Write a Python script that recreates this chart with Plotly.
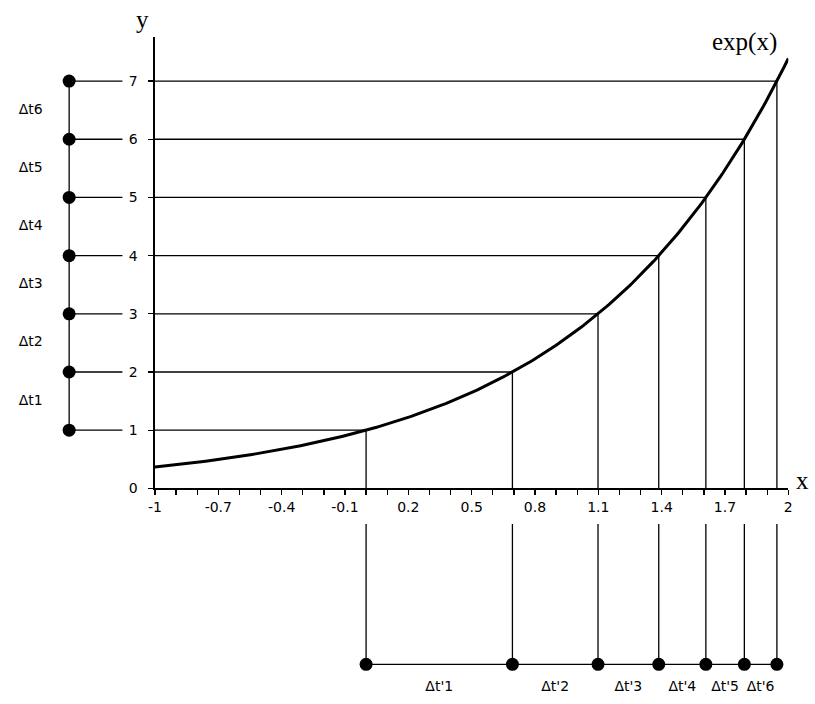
import numpy as np
import plotly.graph_objects as go

# ---- data ----
levels = [1, 2, 3, 4, 5, 6, 7]
x_tick_vals = [-1, -0.7, -0.4, -0.1, 0.2, 0.5, 0.8, 1.1, 1.4, 1.7, 2]
x_tick_text = ["-1", "-0.7", "-0.4", "-0.1", "0.2", "0.5", "0.8", "1.1", "1.4", "1.7", "2"]
x_minor_vals = [round(-1 + 0.1 * i, 1) for i in range(31)]
y_tick_vals = [0, 1, 2, 3, 4, 5, 6, 7]
y_tick_text = ["0", "1", "2", "3", "4", "5", "6", "7"]
left_labels = ["Δt1", "Δt2", "Δt3", "Δt4", "Δt5", "Δt6"]
bottom_labels = ["Δt'1", "Δt'2", "Δt'3", "Δt'4", "Δt'5", "Δt'6"]
curve_x = np.linspace(-1, 2, 301)
curve_y = np.exp(curve_x)          # the plotted function exp(x)
level_x = list(np.log(levels))     # where exp(x) meets each level

# ---- geometry (pixel layout of the 815x704 canvas) ----
W, H = 815, 704
PX0, PX1 = 150, 792          # pixel x of x=-1 and x=2
PY0 = 494                    # pixel y of y=0
PY_TOP = 37                  # top of y axis line
SX = (PX1 - PX0) / 3.0       # px per x unit
SY = (PY0 - 82) / 7.0        # px per y unit

def dx(px):
    return -1 + (px - PX0) / SX

def dy(py):
    return (PY0 - py) / SY

LEFT_X = dx(63)
LEFT_END = dx(117)
BOT_Y = dy(672)
BOT_TOP = dy(530)
LBL_X = dx(24)
BLBL_Y = dy(695)

LINE = dict(color="black", width=1.3)
FONT_S = dict(family="DejaVu Sans", size=14, color="black")
FONT_T = dict(family="Liberation Serif", size=25, color="black")

fig = go.Figure()

# main axes traces: right parts of horizontal lines, vertical drops, curve
hx, hy = [], []
for k, xk in zip(levels, level_x):
    hx += [-1, xk, None]
    hy += [k, k, None]
fig.add_trace(go.Scatter(x=hx, y=hy, mode="lines", line=LINE, hoverinfo="skip",
                         xaxis="x", yaxis="y"))
vx, vy = [], []
for k, xk in zip(levels, level_x):
    vx += [xk, xk, None]
    vy += [k, 0, None]
fig.add_trace(go.Scatter(x=vx, y=vy, mode="lines", line=LINE, hoverinfo="skip",
                         xaxis="x", yaxis="y"))
fig.add_trace(go.Scatter(x=curve_x, y=curve_y, mode="lines",
                         line=dict(color="black", width=3), hoverinfo="skip",
                         xaxis="x", yaxis="y"))

# overlay axes: left scale and bottom scale
lx, ly = [], []
for k in levels:
    lx += [LEFT_X, LEFT_END, None]
    ly += [k, k, None]
fig.add_trace(go.Scatter(x=lx, y=ly, mode="lines", line=LINE, hoverinfo="skip",
                         xaxis="x2", yaxis="y2"))
fig.add_trace(go.Scatter(x=[LEFT_X] * len(levels), y=levels, mode="lines+markers",
                         line=LINE, marker=dict(color="black", size=13),
                         hoverinfo="skip", xaxis="x2", yaxis="y2"))
bx, by = [], []
for xk in level_x:
    bx += [xk, xk, None]
    by += [BOT_TOP, BOT_Y, None]
fig.add_trace(go.Scatter(x=bx, y=by, mode="lines", line=LINE, hoverinfo="skip",
                         xaxis="x2", yaxis="y2"))
fig.add_trace(go.Scatter(x=level_x, y=[BOT_Y] * len(level_x), mode="lines+markers",
                         line=LINE, marker=dict(color="black", size=13),
                         hoverinfo="skip", xaxis="x2", yaxis="y2"))
fig.add_trace(go.Scatter(x=[LBL_X] * len(left_labels),
                         y=[(levels[i] + levels[i + 1]) / 2 for i in range(len(left_labels))],
                         text=left_labels, mode="text", textfont=FONT_S,
                         textposition="middle center", hoverinfo="skip",
                         xaxis="x2", yaxis="y2"))
fig.add_trace(go.Scatter(x=[(level_x[i] + level_x[i + 1]) / 2 for i in range(len(bottom_labels))],
                         y=[BLBL_Y] * len(bottom_labels),
                         text=bottom_labels, mode="text", textfont=FONT_S,
                         textposition="middle center", hoverinfo="skip",
                         xaxis="x2", yaxis="y2"))

fig.add_annotation(x=dx(748), y=dy(42), xref="x2", yref="y2", text="exp(x)",
                   showarrow=False, font=FONT_T)
fig.add_annotation(x=dx(806), y=dy(486), xref="x2", yref="y2", text="x",
                   showarrow=False, font=FONT_T)
fig.add_annotation(x=dx(137), y=dy(20), xref="x2", yref="y2", text="y",
                   showarrow=False, font=FONT_T)

fig.update_layout(
    width=W, height=H, autosize=False,
    margin=dict(l=0, r=0, t=0, b=0, pad=0),
    paper_bgcolor="white", plot_bgcolor="rgba(0,0,0,0)",
    showlegend=False,
    xaxis=dict(domain=[PX0 / W, PX1 / W], range=[-1, 2], anchor="y",
               showline=True, linecolor="black", linewidth=1.5,
               showgrid=False, zeroline=False,
               tickmode="array", tickvals=x_tick_vals, ticktext=x_tick_text,
               ticks="outside", ticklen=5, tickwidth=1.3, tickcolor="black",
               tickfont=FONT_S,
               minor=dict(tickvals=x_minor_vals, ticks="outside", ticklen=5,
                          tickwidth=1.3, tickcolor="black", showgrid=False)),
    yaxis=dict(domain=[(H - PY0) / H, (H - PY_TOP) / H],
               range=[0, dy(PY_TOP)], anchor="x",
               showline=True, linecolor="black", linewidth=1.5,
               showgrid=False, zeroline=False,
               tickmode="array", tickvals=y_tick_vals, ticktext=y_tick_text,
               ticks="outside", ticklen=5, tickwidth=1.3, tickcolor="black",
               tickfont=FONT_S, ticklabelstandoff=8),
    xaxis2=dict(domain=[0, 1], range=[dx(0), dx(W)], anchor="y2", visible=False),
    yaxis2=dict(domain=[0, 1], range=[dy(H), dy(0)], anchor="x2", visible=False),
)

PAGE_FIX = (
    "var gd=document.getElementById('{plot_id}');"
    "gd.style.position='fixed';gd.style.left='0px';gd.style.top='0px';"
    "var de=document.documentElement;de.style.margin='0';de.style.padding='0';"
    "de.style.overflow='hidden';"
    "document.body.style.margin='0';document.body.style.padding='0';"
    "document.body.style.overflow='hidden';"
)

fig.write_html(
    "out.html",
    config={"displayModeBar": False, "staticPlot": True},
    post_script=PAGE_FIX,
)
